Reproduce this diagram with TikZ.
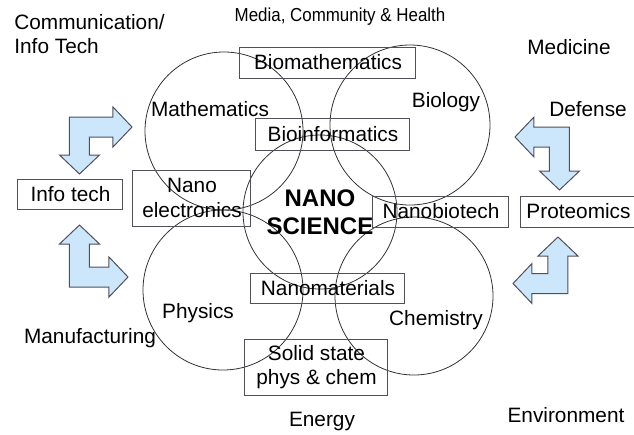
\documentclass[tikz,border=0pt]{standalone}
\usepackage{fontspec}
\setmainfont{Liberation Sans}
\usepackage{tikz}
\definecolor{arrowblue}{RGB}{204,231,251}
\definecolor{edgegray}{RGB}{80,80,90}
% bent double arrow: corner x, corner y, x sign, y sign, arm along x, arm along y
\newcommand{\bentarrow}[6]{%
  \begin{scope}[shift={(#1,#2)}, xscale=#3, yscale=#4]
    \draw[barrow] (-10,-10) -- ({#5-19},-10) -- ({#5-19},-20) -- (#5,0)
      -- ({#5-19},20) -- ({#5-19},10) -- (10,10) -- (10,{#6-19})
      -- (20,{#6-19}) -- (0,#6) -- (-20,{#6-19}) -- (-10,{#6-19}) -- cycle;
  \end{scope}}

\begin{document}
\begin{tikzpicture}[x=0.5pt, y=-0.5pt,
  txt/.style={font=\fontsize{10.4}{12.2}\selectfont, align=center, inner sep=0pt},
  field/.style={circle, draw=black!80, line width=0.4pt, inner sep=0pt},
  box/.style={rectangle, draw=edgegray, line width=0.5pt, txt},
  barrow/.style={fill=arrowblue, draw=edgegray, line width=0.5pt, line join=miter}
]
  \useasboundingbox (0,0) rectangle (634,435);

  % Circles
  \node[field, minimum size=79pt] (math) at (224,131) {};
  \node[field, minimum size=80pt] (bio)  at (410,125) {};
  \node[field, minimum size=80pt] (phys) at (223,290) {};
  \node[field, minimum size=79pt] (chem) at (414,296) {};
  \node[field, minimum size=77pt, font=\fontsize{12}{14}\selectfont\bfseries,
        align=center] (nano) at (320,212) {NANO\\SCIENCE};

  % Circle labels
  \node[txt] (lmath) at (210,109) {Mathematics};
  \node[txt] (lbio)  at (446,102) {Biology};
  \node[txt] (lphys) at (198,313) {Physics};
  \node[txt] (lchem) at (436,320) {Chemistry};

  % Overlap boxes
  \node[box, minimum width=88pt, minimum height=15.5pt] (biomath)  at (328,62.5) {Biomathematics};
  \node[box, minimum width=77pt, minimum height=16pt]   (bioinfo)  at (333,134)  {Bioinformatics};
  \node[box, minimum width=59pt, minimum height=28pt]   (nanoelec) at (192,198)  {Nano\\electronics};
  \node[box, minimum width=68pt, minimum height=15.5pt] (nanobio)  at (441,211.5) {Nanobiotech};
  \node[box, minimum width=77pt, minimum height=15pt]   (nanomat)  at (328,288)  {Nanomaterials};
  \node[box, minimum width=71.5pt, minimum height=28pt] (solid)    at (316.5,367) {Solid state\\phys \& chem};
  \node[box, minimum width=52.5pt, minimum height=15pt] (infotech) at (70.5,194) {Info tech};
  \node[box, minimum width=57.5pt, minimum height=15.5pt] (prot)   at (578.5,211.5) {Proteomics};

  % Application areas
  \node[txt, align=left, anchor=west] (comm) at (14,34) {Communication/\\Info Tech};
  \node[txt, font=\fontsize{9.4}{11}\selectfont] (media) at (340,17)
    {\scalebox{0.9}[1]{Media, Community \& Health}};
  \node[txt] (medic)   at (569,47)  {Medicine};
  \node[txt] (defense) at (588,109) {Defense};
  \node[txt] (manuf)   at (90,338)  {Manufacturing};
  \node[txt] (energy)  at (322,421) {Energy};
  \node[txt] (env)     at (566,415) {Environment};

  % Block arrows
  \bentarrow{79.5}{127}{1}{1}{52.5}{47}
  \bentarrow{79.5}{277}{1}{-1}{48.5}{52}
  \bentarrow{559.5}{137}{-1}{1}{44.5}{53}
  \bentarrow{558}{283.5}{-1}{-1}{45}{46.5}
\end{tikzpicture}
\end{document}
